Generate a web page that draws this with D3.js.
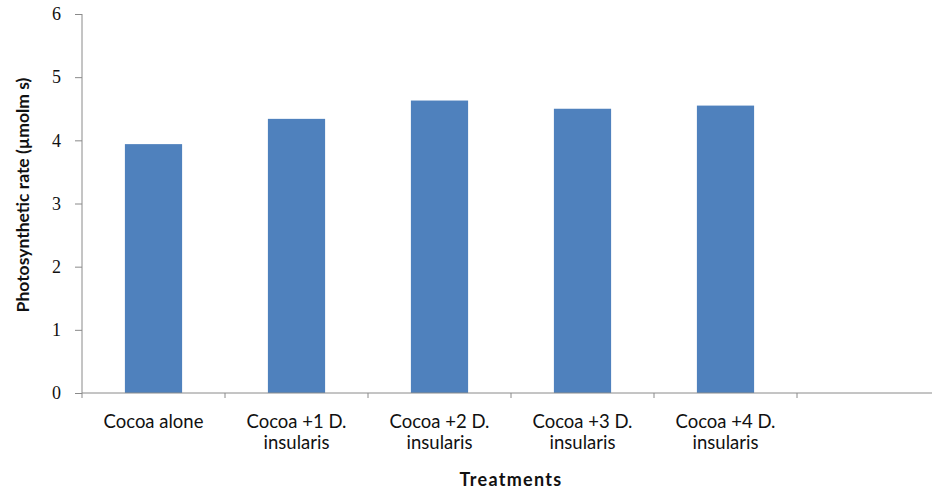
<!DOCTYPE html>
<html>
<head>
<meta charset="utf-8">
<script src="https://cdn.jsdelivr.net/npm/d3@7"></script>
<style>
  body { margin: 0; background: #fff; }
  svg { display: block; }
</style>
</head>
<body>
<script>
// data
const treatments = ["Cocoa alone", "Cocoa +1 D. insularis", "Cocoa +2 D. insularis", "Cocoa +3 D. insularis", "Cocoa +4 D. insularis"];
const treatmentLines = [["Cocoa alone"], ["Cocoa +1 D.", "insularis"], ["Cocoa +2 D.", "insularis"], ["Cocoa +3 D.", "insularis"], ["Cocoa +4 D.", "insularis"]];
const photoRate = [3.94, 4.34, 4.63, 4.50, 4.55];
const yTicks = [0, 1, 2, 3, 4, 5, 6];

const chartW = 932, chartH = 493;
const plotLeft = 82, plotTop = 14, plotBottom = 393;
const slotW = 143;

const svg = d3.select("body").append("svg")
    .attr("width", chartW)
    .attr("height", chartH);

// the original sheet had one empty slot after the last treatment
const slots = treatments.concat([""]);
const xScale = d3.scaleBand()
    .domain(slots)
    .range([plotLeft, plotLeft + slots.length * slotW])
    .paddingInner(0.6)
    .paddingOuter(0.3);

const yScale = d3.scaleLinear()
    .domain([0, 6])
    .range([plotBottom, plotTop]);

const axisColor = "#8a8a8a";
const labelFont = "Lato, 'Open Sans', sans-serif";

// bars
svg.selectAll("rect.bar")
    .data(photoRate)
    .enter()
    .append("rect")
    .attr("class", "bar")
    .attr("x", (d, i) => xScale(treatments[i]))
    .attr("y", d => yScale(d))
    .attr("width", xScale.bandwidth())
    .attr("height", d => plotBottom - yScale(d))
    .attr("fill", "#4f81bd");

// y axis
const yAxis = svg.append("g")
    .attr("transform", `translate(${plotLeft},0)`)
    .call(d3.axisLeft(yScale).tickValues(yTicks).tickSize(7).tickPadding(14).tickFormat(d3.format("d")));
yAxis.select(".domain").attr("stroke", axisColor).attr("d", `M0,${plotTop}V${plotBottom}`);
yAxis.selectAll(".tick line").attr("stroke", axisColor);
yAxis.selectAll(".tick text")
    .attr("fill", "#111")
    .style("font-family", "'Liberation Serif', 'DejaVu Serif', serif")
    .style("font-size", "18px");

// x axis line and slot ticks
svg.append("line")
    .attr("x1", plotLeft).attr("x2", chartW)
    .attr("y1", plotBottom).attr("y2", plotBottom)
    .attr("stroke", axisColor);

const step = xScale.step();
const edgeOffset = xScale.paddingOuter() * step;
svg.selectAll("line.xtick")
    .data(slots)
    .enter()
    .append("line")
    .attr("class", "xtick")
    .attr("x1", d => xScale(d) - edgeOffset)
    .attr("x2", d => xScale(d) - edgeOffset)
    .attr("y1", plotBottom).attr("y2", plotBottom + 5)
    .attr("stroke", axisColor);

// category labels
const labels = svg.selectAll("text.cat")
    .data(treatmentLines)
    .enter()
    .append("text")
    .attr("class", "cat")
    .attr("text-anchor", "middle")
    .attr("fill", "#111")
    .style("font-family", labelFont)
    .style("font-size", "18.5px");
labels.each(function (lines, i) {
    const cx = xScale(treatments[i]) + xScale.bandwidth() / 2;
    d3.select(this).selectAll("tspan")
        .data(lines)
        .enter()
        .append("tspan")
        .attr("x", cx)
        .attr("y", (d, j) => 428 + j * 20.5)
        .text(d => d);
});

// axis titles
svg.append("text")
    .attr("x", 511)
    .attr("y", 486)
    .attr("text-anchor", "middle")
    .attr("fill", "#111")
    .style("font-family", labelFont)
    .style("font-weight", "bold")
    .style("font-size", "18px")
    .style("letter-spacing", "1.3px")
    .text("Treatments");

svg.append("text")
    .attr("transform", "translate(29,195) rotate(-90)")
    .attr("text-anchor", "middle")
    .attr("fill", "#111")
    .style("font-family", labelFont)
    .style("font-weight", "bold")
    .style("font-size", "17.5px")
    .text("Photosynthetic rate (µmolm s)");
</script>
</body>
</html>
